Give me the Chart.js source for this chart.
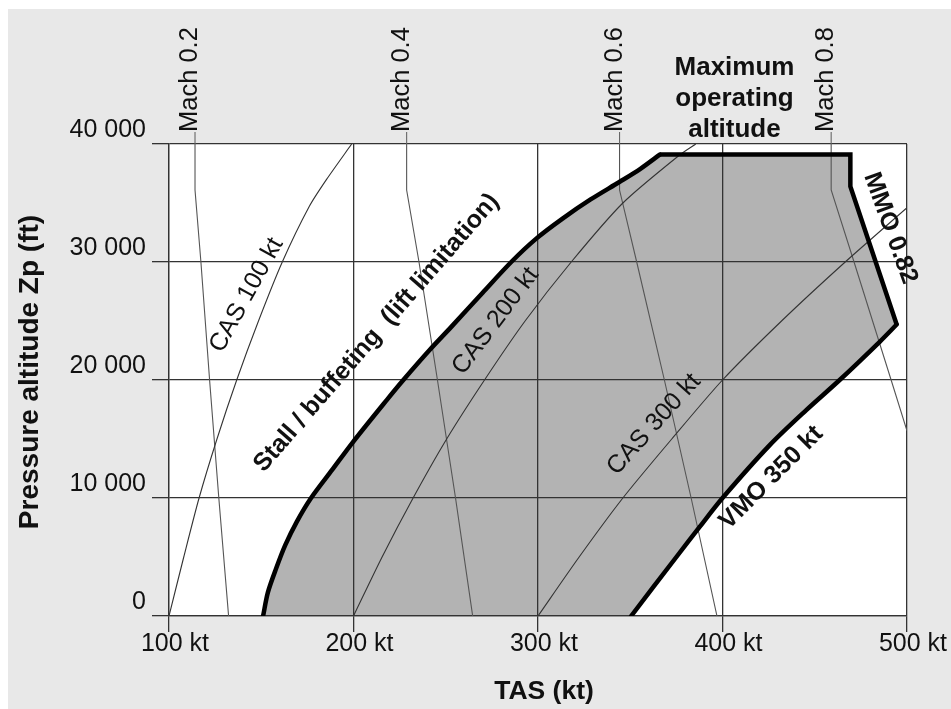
<!DOCTYPE html>
<html>
<head>
<meta charset="utf-8">
<script src="https://cdn.jsdelivr.net/npm/chart.js@4.4.0/dist/chart.umd.min.js"></script>
<style>
  html, body { margin: 0; padding: 0; background: #fff; }
  #wrap { position: absolute; left: 8px; top: 9px; width: 943px; height: 700px; }
</style>
</head>
<body>
<div id="wrap"><canvas id="chart" width="943" height="700"></canvas></div>
<script>
// axes
const tasMin = 100, tasMax = 500, tasStep = 100;
const altMin = 0, altMax = 40000, altStep = 10000;

// flight envelope: stall / buffeting curve
const stallTas = [151, 153.6, 158, 163, 169.3, 177, 188.5, 199.5, 218, 227, 241, 253, 270, 285.5, 299.2, 313.5, 328.5, 344.3, 355.5, 366];
const stallAlt = [0, 2000, 4000, 6000, 8000, 10000, 12400, 14700, 18300, 20000, 22500, 24500, 27400, 30000, 32000, 33700, 35300, 36800, 37900, 39100];
// max operating altitude + MMO 0.82
const ceilTas = [366, 469.3, 469.3, 494.4];
const ceilAlt = [39100, 39100, 36400, 24700];
// VMO 350 kt
const vmoTas = [494.4, 485.2, 463.5, 445.4, 425.6, 400, 387.6, 375, 350.5];
const vmoAlt = [24700, 23240, 20000, 17450, 14480, 10000, 7550, 5000, 0];

// CAS lines
const cas100Tas = [100, 108, 116.3, 126, 136.7, 148.5, 161.4, 176, 185.4, 199];
const cas100Alt = [0, 5000, 10000, 15000, 20000, 25000, 30000, 34700, 37000, 40000];
const cas200Tas = [200, 215.5, 232.3, 250.5, 271, 293, 318, 346, 377, 385.5];
const cas200Alt = [0, 5000, 10000, 15000, 20000, 25000, 30000, 35000, 39100, 40000];
const cas300Tas = [300, 322.3, 346, 372.5, 400, 432, 466.5, 500];
const cas300Alt = [0, 5000, 10000, 15000, 20000, 25000, 30000, 34600];

// Mach lines
const machAlt = [0, 10000, 20000, 30000, 36100, 40000];
const mach02Tas = [132.3, 127, 122, 117.3, 114.1, 114.1];
const mach04Tas = [264.6, 255.3, 245.5, 235.5, 228.8, 228.8];
const mach06Tas = [397, 383, 368.5, 353.5, 344.2, 344.2];
const mach08Alt = [15700, 20000, 30000, 36100, 40000];
const mach08Tas = [500, 491.4, 471.3, 458.9, 458.9];

const casLabels = ['CAS 100 kt', 'CAS 200 kt', 'CAS 300 kt'];
const machLabels = ['Mach 0.2', 'Mach 0.4', 'Mach 0.6', 'Mach 0.8'];

const FONT = '"Liberation Sans", Arial, sans-serif';
Chart.defaults.font.family = FONT;

function toPoints(xs, ys) {
    return xs.map((v, i) => ({ x: v, y: ys[i] }));
}

function thinLine(label, xs, ys, color, tension) {
    return {
        label: label,
        data: toPoints(xs, ys),
        showLine: true,
        borderColor: color,
        borderWidth: 1.1,
        pointRadius: 0,
        tension: tension,
        fill: false
    };
}

function thickLine(label, xs, ys, tension, cap) {
    return {
        label: label,
        data: toPoints(xs, ys),
        showLine: true,
        borderColor: '#000',
        borderWidth: 4.5,
        borderJoinStyle: 'miter',
        borderCapStyle: cap,
        pointRadius: 0,
        tension: tension,
        fill: false
    };
}

// fond gris, zone blanche et enveloppe grisée (sous la grille)
const backgroundPlugin = {
    id: 'background',
    beforeDraw(chart) {
        const { ctx, chartArea: a } = chart;
        ctx.save();
        ctx.fillStyle = '#e8e8e8';
        ctx.fillRect(0, 0, chart.width, chart.height);
        ctx.fillStyle = '#ffffff';
        ctx.fillRect(a.left, a.top, a.right - a.left, a.bottom - a.top);
        const pts = [0, 1, 2].flatMap(i => chart.getDatasetMeta(i).data);
        ctx.beginPath();
        pts.forEach((p, i) => i ? ctx.lineTo(p.x, p.y) : ctx.moveTo(p.x, p.y));
        ctx.closePath();
        ctx.fillStyle = '#b3b3b3';
        ctx.fill();
        ctx.restore();
    }
};

function drawRotated(ctx, text, px, py, deg, font) {
    ctx.save();
    ctx.translate(px, py);
    ctx.rotate(deg * Math.PI / 180);
    ctx.font = font;
    ctx.textAlign = 'center';
    ctx.textBaseline = 'middle';
    ctx.fillText(text, 0, 0);
    ctx.restore();
}

// textes et annotations
const annotationPlugin = {
    id: 'annotations',
    afterDraw(chart) {
        const { ctx, chartArea: a, scales: { x, y } } = chart;
        ctx.save();
        ctx.fillStyle = '#111';

        // Mach labels above the plot
        machLabels.forEach(label => {
            const idx = chart.data.datasets.findIndex(d => d.label === label);
            const pts = chart.getDatasetMeta(idx).data;
            const top = pts[pts.length - 1];
            ctx.strokeStyle = '#666';
            ctx.lineWidth = 1.1;
            ctx.beginPath();
            ctx.moveTo(top.x, a.top);
            ctx.lineTo(top.x, a.top - 12);
            ctx.stroke();
            ctx.save();
            ctx.translate(top.x + 2, a.top - 12);
            ctx.rotate(-Math.PI / 2);
            ctx.font = '25.5px ' + FONT;
            ctx.textAlign = 'left';
            ctx.textBaseline = 'alphabetic';
            ctx.fillText(label, 0, 0);
            ctx.restore();
        });

        // Maximum operating altitude
        ctx.font = 'bold 26px ' + FONT;
        ctx.textAlign = 'center';
        ctx.textBaseline = 'alphabetic';
        const mx = x.getPixelForValue(406.5);
        ctx.fillText('Maximum', mx, a.top - 69);
        ctx.fillText('operating', mx, a.top - 38);
        ctx.fillText('altitude', mx, a.top - 7);

        // labels along the curves
        const reg = '25px ' + FONT;
        const bold = 'bold 25px ' + FONT;
        drawRotated(ctx, casLabels[0], x.getPixelForValue(142.1), y.getPixelForValue(27200), -61, reg);
        drawRotated(ctx, casLabels[1], x.getPixelForValue(277), y.getPixelForValue(25000), -53, reg);
        drawRotated(ctx, casLabels[2], x.getPixelForValue(362.8), y.getPixelForValue(16240), -48, reg);
        drawRotated(ctx, 'Stall / buffeting  (lift limitation)', x.getPixelForValue(212.5), y.getPixelForValue(24000), -49, bold);
        drawRotated(ctx, 'VMO 350 kt', x.getPixelForValue(426.5), y.getPixelForValue(11720), -45, bold);
        drawRotated(ctx, 'MMO 0.82', x.getPixelForValue(491), y.getPixelForValue(32860), 70, bold);

        // axis titles
        ctx.font = 'bold 26.5px ' + FONT;
        ctx.textAlign = 'center';
        ctx.textBaseline = 'middle';
        ctx.fillText('TAS (kt)', (a.left + a.right) / 2 + 6, 683);
        ctx.save();
        ctx.translate(29.5, (a.top + a.bottom) / 2 - 8);
        ctx.rotate(-Math.PI / 2);
        ctx.font = 'bold 28px ' + FONT;
        ctx.textBaseline = 'alphabetic';
        ctx.fillText('Pressure altitude Zp (ft)', 0, 0);
        ctx.restore();

        ctx.restore();
    }
};

const ctx = document.getElementById('chart').getContext('2d');
new Chart(ctx, {
    type: 'scatter',
    data: {
        datasets: [
            thickLine('stall', stallTas, stallAlt, 0.3, 'round'),
            thickLine('ceiling', ceilTas, ceilAlt, 0, 'butt'),
            thickLine('vmo', vmoTas, vmoAlt, 0.3, 'round'),
            thinLine(casLabels[0], cas100Tas, cas100Alt, '#333', 0.25),
            thinLine(casLabels[1], cas200Tas, cas200Alt, '#333', 0.25),
            thinLine(casLabels[2], cas300Tas, cas300Alt, '#333', 0.25),
            thinLine(machLabels[0], mach02Tas, machAlt, '#555', 0),
            thinLine(machLabels[1], mach04Tas, machAlt, '#555', 0),
            thinLine(machLabels[2], mach06Tas, machAlt, '#555', 0),
            thinLine(machLabels[3], mach08Tas, mach08Alt, '#555', 0)
        ]
    },
    options: {
        responsive: false,
        animation: false,
        devicePixelRatio: 1,
        layout: { padding: { left: 0, top: 135, right: 44, bottom: 0 } },
        plugins: {
            legend: { display: false },
            tooltip: { enabled: false }
        },
        scales: {
            x: {
                type: 'linear',
                min: tasMin,
                max: tasMax,
                afterFit: s => { s.height = 93; },
                border: { color: '#333', width: 1.3 },
                grid: { color: '#333', lineWidth: 1.3, tickLength: 16, tickColor: '#333' },
                ticks: {
                    stepSize: tasStep,
                    color: '#111',
                    padding: 0,
                    labelOffset: 6,
                    maxRotation: 0,
                    font: { size: 25, lineHeight: 1 },
                    callback: v => v + ' kt'
                }
            },
            y: {
                type: 'linear',
                min: altMin,
                max: altMax,
                afterFit: s => { s.width = 161; },
                border: { color: '#333', width: 1.3 },
                grid: { color: '#333', lineWidth: 1.3, tickLength: 17, tickColor: '#333' },
                ticks: {
                    stepSize: altStep,
                    color: '#111',
                    padding: 6,
                    labelOffset: -14,
                    font: { size: 25, lineHeight: 1 },
                    callback: v => v === 0 ? '0' : (v / 1000) + ' 000'
                }
            }
        }
    },
    plugins: [backgroundPlugin, annotationPlugin]
});
</script>
</body>
</html>
